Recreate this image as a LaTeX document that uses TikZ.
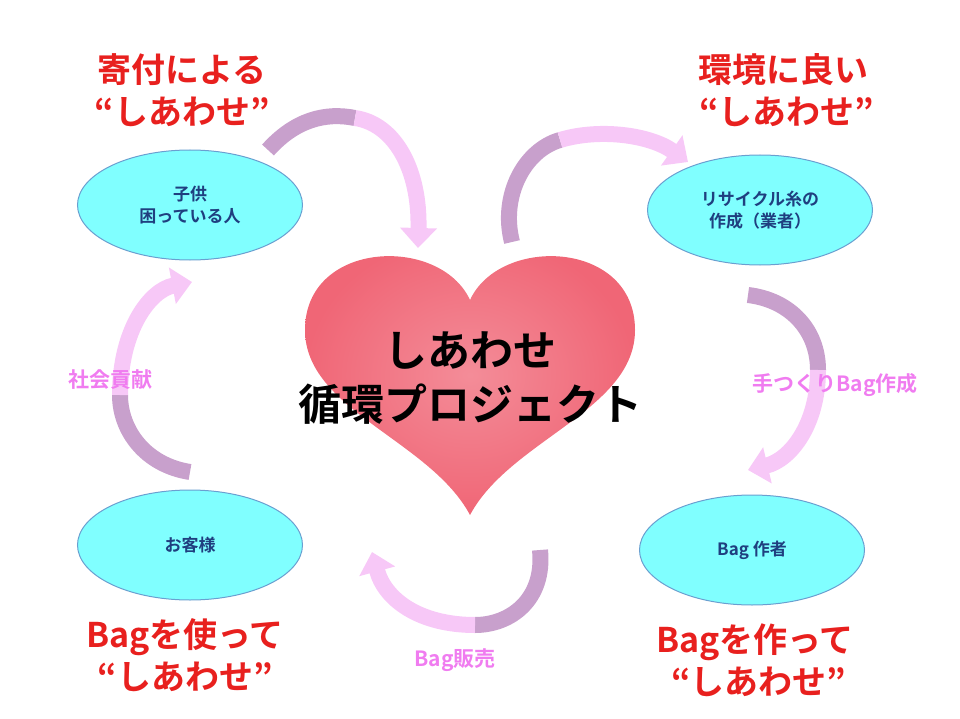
\documentclass[tikz,border=0pt]{standalone}
\usepackage{fontspec}
\newfontfamily\cjk{Noto Sans CJK JP}[BoldFont={Noto Sans CJK JP Bold}]
\usetikzlibrary{arrows.meta,shapes.geometric}
\definecolor{ell}{HTML}{80FFFF}
\definecolor{ellb}{HTML}{6A9FD0}
\definecolor{etext}{HTML}{1F3F7F}
\definecolor{ttl}{HTML}{E8201E}
\definecolor{pinklab}{HTML}{F07CF0}
\definecolor{arrA}{HTML}{C8A0CC}
\definecolor{arrB}{HTML}{F7C8F7}
\definecolor{heart}{HTML}{F06676}
\tikzset{
 ellnode/.style={ellipse,draw=ellb,line width=1pt,fill=ell,minimum width=225pt,minimum height=110pt,font=\cjk\bfseries\fontsize{17}{22}\selectfont,text=etext,align=center},
 ttlnode/.style={font=\cjk\bfseries\fontsize{34}{42}\selectfont,text=ttl,align=center},
 labnode/.style={font=\cjk\bfseries\fontsize{21}{25}\selectfont,text=pinklab},
 tailseg/.style={draw=arrA,line width=16pt},
 headseg/.style={draw=arrB,line width=16pt,-{Triangle[width=36pt,length=20pt]}},
}
\begin{document}
\begin{tikzpicture}[x=1pt,y=-1pt]
\useasboundingbox (0,0) rectangle (960,719);
% heart
\path[inner color=heart!75,outer color=heart] (470,300) .. controls (440,235) and (305,240) .. (305,330) .. controls (305,410) and (430,440) .. (470,515) .. controls (510,440) and (635,410) .. (635,330) .. controls (635,240) and (500,235) .. (470,300) -- cycle;
\node (center) [font=\cjk\bfseries\fontsize{43}{54}\selectfont,align=center] at (470,378) {しあわせ\\循環プロジェクト};
% ellipses
\node (kodomo) [ellnode] at (190,205) {子供\\困っている人};
\node (gyosha) [ellnode] at (760,210) {リサイクル糸の\\作成（業者）};
\node (kyaku) [ellnode] at (190,545) {お客様};
\node (sakusha) [ellnode] at (752,550) {Bag 作者};
% arrows
\coordinate (a1s) at (268,150); \coordinate (a1m) at (355,118); \coordinate (a1e) at (418,248);
\path[tailseg] (a1s) .. controls (295,120) and (325,112) .. (a1m);
\path[headseg] (a1m) .. controls (395,124) and (420,170) .. (a1e);
\coordinate (a2s) at (512,242); \coordinate (a2m) at (560,140); \coordinate (a2e) at (688,162);
\path[tailseg] (a2s) .. controls (500,195) and (525,150) .. (a2m);
\path[headseg] (a2m) .. controls (600,128) and (650,135) .. (a2e);
\coordinate (a3s) at (748,295); \coordinate (a3m) at (818,370); \coordinate (a3e) at (748,470);
\path[tailseg] (a3s) .. controls (790,300) and (818,330) .. (a3m);
\path[headseg] (a3m) .. controls (818,425) and (790,460) .. (a3e);
\coordinate (a4s) at (540,550); \coordinate (a4m) at (475,625); \coordinate (a4e) at (372,552);
\path[tailseg] (a4s) .. controls (545,600) and (510,625) .. (a4m);
\path[headseg] (a4m) .. controls (420,625) and (385,600) .. (a4e);
\coordinate (a5s) at (190,472); \coordinate (a5m) at (120,395); \coordinate (a5e) at (192,282);
\path[tailseg] (a5s) .. controls (145,465) and (120,430) .. (a5m);
\path[headseg] (a5m) .. controls (120,330) and (150,290) .. (a5e);
% titles
\node (t1) [ttlnode] at (182,90) {寄付による\\“しあわせ”};
\node (t2) [ttlnode] at (783,90) {環境に良い\\\ “しあわせ”};
\node (t3) [ttlnode] at (185,655) {Bagを使って\\“しあわせ”};
\node (t4) [ttlnode] at (755,660) {Bagを作って\\\ “しあわせ”};
% labels
\node (l1) [labnode] at (110,380) {社会貢献};
\node (l2) [labnode] at (835,385) {手つくりBag作成};
\node (l3) [labnode] at (455,660) {Bag販売};
\end{tikzpicture}
\end{document}
